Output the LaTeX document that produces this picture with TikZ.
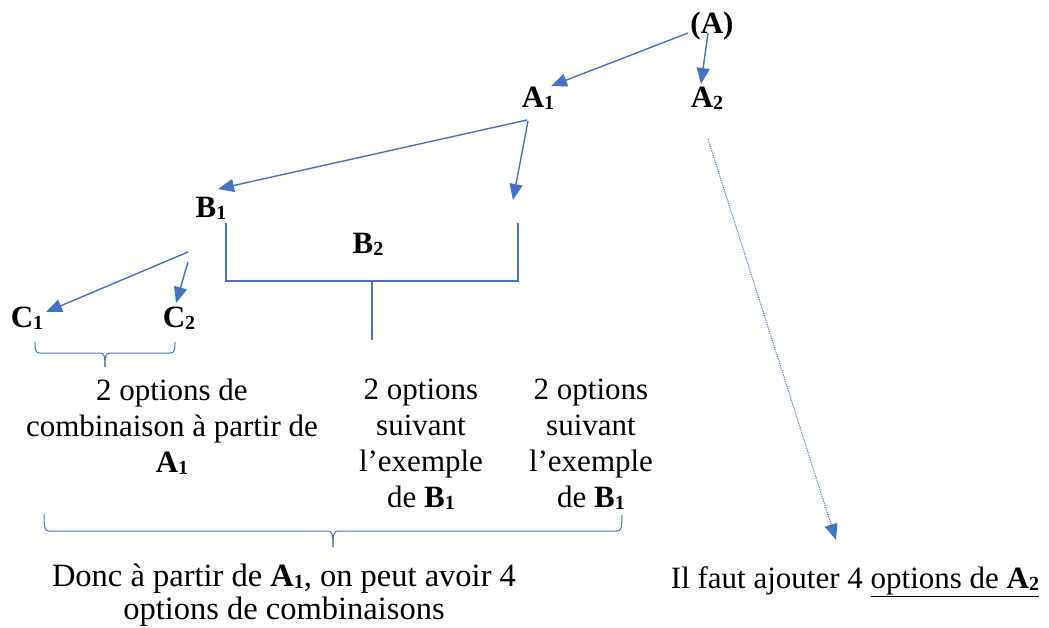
\documentclass[tikz,border=0pt]{standalone}
\usepackage{fontspec}
\setmainfont{Liberation Serif}
\usetikzlibrary{arrows.meta}
\definecolor{wordblue}{HTML}{4472C4}
% small lowered index digit, as in A1, B1, C2
\newcommand{\idx}[1]{\raisebox{-0.07em}{\fontsize{20}{20}\selectfont #1}}

\begin{document}
\begin{tikzpicture}[x=1pt,y=-1pt,
  lbl/.style={font=\fontsize{31}{37}\selectfont\bfseries, inner sep=0pt, anchor=base},
  txt/.style={font=\fontsize{31}{36}\selectfont, inner sep=0pt, anchor=base, align=center},
  link/.style={wordblue, line width=1.4pt, -{Triangle[length=16pt,width=13pt]}},
  hint/.style={wordblue, line width=1pt, dash pattern=on 1.2pt off 1.2pt,
               -{Triangle[length=16pt,width=13pt]}},
  brk/.style={wordblue, line width=1.3pt}]
\useasboundingbox (0,0) rectangle (1049,627);

% tree labels
\node[lbl] (A)  at (712,33)  {(A)};
\node[lbl] (A1) at (538,107) {A\idx{1}};
\node[lbl] (A2) at (707,107) {A\idx{2}};
\node[lbl] (B1) at (211,217) {B\idx{1}};
\node[lbl] (B2) at (368,253) {B\idx{2}};
\node[lbl] (C1) at (27,327)  {C\idx{1}};
\node[lbl] (C2) at (179,327) {C\idx{2}};

% arrow end points
\coordinate (aOutL) at (688,33);
\coordinate (aOutR) at (708,33);
\coordinate (a1In)  at (551,86);
\coordinate (a2In)  at (701,84);
\coordinate (a1OutL) at (527,120);
\coordinate (a1OutR) at (528,121);
\coordinate (b1In)  at (218,189);
\coordinate (b2In)  at (513,200);
\coordinate (b1OutL) at (188,252);
\coordinate (b1OutR) at (188,262);
\coordinate (c1In)  at (46,312);
\coordinate (c2In)  at (176,303);
\coordinate (a2Out) at (708,139);
\coordinate (a2End) at (836,540);

\draw[link] (aOutL) -- (a1In);
\draw[link] (aOutR) -- (a2In);
\draw[link] (a1OutL) -- (b1In);
\draw[link] (a1OutR) -- (b2In);
\draw[link] (b1OutL) -- (c1In);
\draw[link] (b1OutR) -- (c2In);
\draw[hint] (a2Out) -- (a2End);

% bracket grouping the B2 branch
\coordinate (bkL) at (226,223);
\coordinate (bkR) at (518,223);
\coordinate (bkM) at (372,281);
\coordinate (bkS) at (372,340);
\draw[brk] (bkL) -- (226,281) -- (518,281) -- (bkR);
\draw[brk] (bkM) -- (bkS);

% brace under C1, C2
\draw[brk, line width=1pt] (35,342) .. controls (35,351) and (36,353) .. (40,353) -- (100,353)
  .. controls (104,353) and (105,355) .. (105,367);
\draw[brk, line width=1pt] (175,342) .. controls (175,351) and (174,353) .. (170,353) -- (110,353)
  .. controls (106,353) and (105,355) .. (105,367);

% long brace under the three columns
\draw[brk, line width=1pt] (44,514) .. controls (44,528) and (45,531) .. (49,531) -- (328,531)
  .. controls (332,531) and (333,534) .. (333,547);
\draw[brk, line width=1pt] (622,515) .. controls (622,528) and (621,531) .. (617,531) -- (338,531)
  .. controls (334,531) and (333,534) .. (333,547);

% explanations (base anchor sits on the last line)
\node[txt] (t1) at (172,472) {2 options de\\combinaison à partir de\\\textbf{A\idx{1}}};
\node[txt] (t2) at (421,507) {2 options\\suivant\\l’exemple\\de \textbf{B\idx{1}}};
\node[txt] (t3) at (591,507) {2 options\\suivant\\l’exemple\\de \textbf{B\idx{1}}};
\node[txt, font=\fontsize{32.5}{33}\selectfont] (t4) at (284,619)
  {Donc à partir de \textbf{A\idx{1}}, on peut avoir 4\\options de combinaisons};
\node[txt] (t5) at (855,588) {Il faut ajouter 4 \underline{options de \textbf{A\idx{2}}}};
\end{tikzpicture}
\end{document}
